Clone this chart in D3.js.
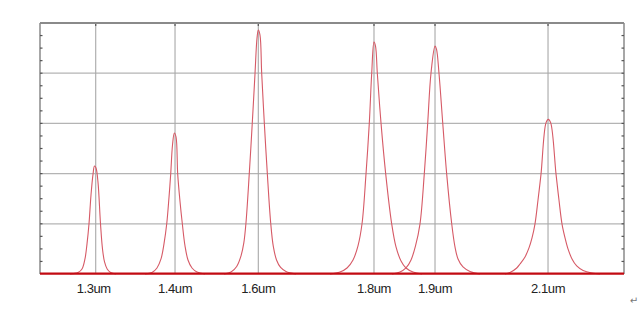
<!DOCTYPE html>
<html><head><meta charset="utf-8">
<script src="https://cdn.jsdelivr.net/npm/d3@7"></script>
<style>html,body{margin:0;padding:0;background:#fff;}svg{display:block;}</style>
</head><body>
<script>
// x: scan position (0-100 %), y: intensity (a.u., 0-5)
const markerLabels = ["1.3um","1.4um","1.6um","1.8um","1.9um","2.1um"];
const markerPos    = [9.54, 23.12, 37.38, 57.19, 67.64, 86.99];
const yTicks = [0,1,2,3,4,5];

const peak13 = [[5.14,0],[6.51,0.03],[7.19,0.10],[7.70,0.30],[8.05,0.60],[8.39,1.00],[8.73,1.57],[9.08,1.99],[9.33,2.15],[9.59,2.11],[9.93,1.83],[10.36,1.00],[10.70,0.50],[11.05,0.24],[11.50,0.10],[12.10,0.03],[13.01,0]];
const peak14 = [[17.98,0],[19.18,0.03],[20.03,0.12],[20.72,0.30],[21.23,0.60],[21.70,1.00],[22.09,1.53],[22.38,1.99],[22.69,2.57],[23.00,2.81],[23.29,2.73],[23.58,1.99],[23.97,1.45],[24.37,1.00],[24.83,0.56],[25.34,0.28],[26.03,0.12],[26.88,0.04],[28.25,0]];
const peak16 = [[31.51,0],[32.71,0.04],[33.68,0.15],[34.42,0.36],[34.90,0.62],[35.27,1.02],[35.84,2.01],[36.35,3.01],[36.82,4.00],[37.16,4.70],[37.38,4.86],[37.67,4.76],[37.96,4.00],[38.41,3.01],[38.92,2.01],[39.50,1.02],[39.95,0.55],[40.50,0.28],[41.20,0.13],[42.12,0.05],[43.84,0]];
const peak18 = [[49.66,0],[51.37,0.04],[52.57,0.12],[53.60,0.28],[54.45,0.56],[55.14,1.00],[55.82,1.99],[56.39,3.01],[56.80,4.00],[57.19,4.62],[57.45,4.54],[57.76,4.00],[58.39,3.01],[59.20,1.99],[60.22,1.00],[60.96,0.54],[61.82,0.26],[62.67,0.12],[63.87,0.04],[65.41,0]];
const peak19 = [[60.27,0],[61.64,0.04],[62.67,0.12],[63.53,0.28],[64.30,0.56],[65.07,1.00],[65.80,1.99],[66.39,3.01],[66.95,4.00],[67.64,4.54],[67.89,4.48],[68.32,4.00],[68.96,3.01],[69.64,1.99],[70.50,1.00],[71.06,0.54],[71.58,0.30],[72.43,0.14],[73.63,0.05],[75.34,0]];
const peak21 = [[79.62,0],[80.48,0.03],[81.63,0.12],[82.19,0.20],[83.05,0.34],[83.73,0.52],[84.25,0.72],[84.76,1.00],[85.27,1.47],[85.79,1.99],[86.64,3.01],[87.04,3.08],[87.45,3.01],[88.36,1.99],[88.87,1.47],[89.38,1.00],[89.90,0.72],[90.41,0.50],[91.10,0.30],[91.90,0.16],[93.00,0.07],[94.52,0.02],[95.89,0]];
const peaks = [peak13, peak14, peak16, peak18, peak19, peak21];

const W = 641, H = 313;
const m = {left:40, right:17, top:23, bottom:39};
const svg = d3.select("body").append("svg").attr("width",W).attr("height",H);
const x = d3.scaleLinear().domain([0,100]).range([m.left, W-m.right]);
const y = d3.scaleLinear().domain([0,5]).range([H-m.bottom, m.top]);

const g = svg.append("g");
// horizontal grid
g.selectAll(".hg").data(yTicks.slice(1,-1)).join("line")
  .attr("x1",x(0)).attr("x2",x(100)).attr("y1",d=>y(d)).attr("y2",d=>y(d))
  .attr("stroke","#b4b4b4").attr("stroke-width",1.2);
// vertical grid
g.selectAll(".vg").data(markerPos).join("line")
  .attr("x1",d=>x(d)).attr("x2",d=>x(d)).attr("y1",y(5)).attr("y2",y(0))
  .attr("stroke","#a8a8a8").attr("stroke-width",1.1);
g.selectAll(".vt").data(markerPos).join("line")
  .attr("x1",d=>x(d)).attr("x2",d=>x(d)).attr("y1",y(5)).attr("y2",y(5)+3)
  .attr("stroke","#555").attr("stroke-width",1.2);

// frame
g.append("line").attr("x1",x(0)).attr("x2",x(100)).attr("y1",y(5)).attr("y2",y(5))
  .attr("stroke","#8a8a8a").attr("stroke-width",2);
g.append("line").attr("x1",x(0)).attr("x2",x(0)).attr("y1",y(5)).attr("y2",y(0))
  .attr("stroke","#8a8a8a").attr("stroke-width",1.5);
g.append("line").attr("x1",x(100)).attr("x2",x(100)).attr("y1",y(5)).attr("y2",y(0))
  .attr("stroke","#8a8a8a").attr("stroke-width",1.5);

// minor ticks
const minor = d3.range(0.25,5,0.25);
g.selectAll(".ml").data(minor).join("line")
  .attr("x1",x(0)).attr("x2",x(0)+2.5).attr("y1",d=>y(d)).attr("y2",d=>y(d))
  .attr("stroke","#555").attr("stroke-width",1.2);
g.selectAll(".mr").data(minor).join("line")
  .attr("x1",x(100)-2.5).attr("x2",x(100)).attr("y1",d=>y(d)).attr("y2",d=>y(d))
  .attr("stroke","#555").attr("stroke-width",1.2);

// peaks
const line = d3.line().x(d=>x(d[0])).y(d=>y(Math.max(0,d[1]))).curve(d3.curveCatmullRom.alpha(0.5));
g.selectAll(".pk").data(peaks).join("path")
  .attr("d",line).attr("fill","none").attr("stroke","#d65a66").attr("stroke-width",1.1);

// baseline
g.append("line").attr("x1",x(0)).attr("x2",x(100)).attr("y1",y(0)-0.3).attr("y2",y(0)-0.3)
  .attr("stroke","#c20a12").attr("stroke-width",2.2);

// labels
g.selectAll(".lb").data(markerLabels).join("text")
  .attr("x",(d,i)=>x(markerPos[i]) - (i===0?2:0))
  .attr("y",y(0)+19)
  .attr("text-anchor","middle")
  .attr("font-family","Liberation Sans, Arial, sans-serif")
  .attr("font-size",13).attr("letter-spacing","-0.4")
  .attr("fill","#222").text(d=>d);

svg.append("text").attr("x",634).attr("y",304).attr("text-anchor","middle")
  .attr("font-family","DejaVu Sans, sans-serif").attr("font-size",10).attr("fill","#777").text("↵");
</script>
</body></html>
